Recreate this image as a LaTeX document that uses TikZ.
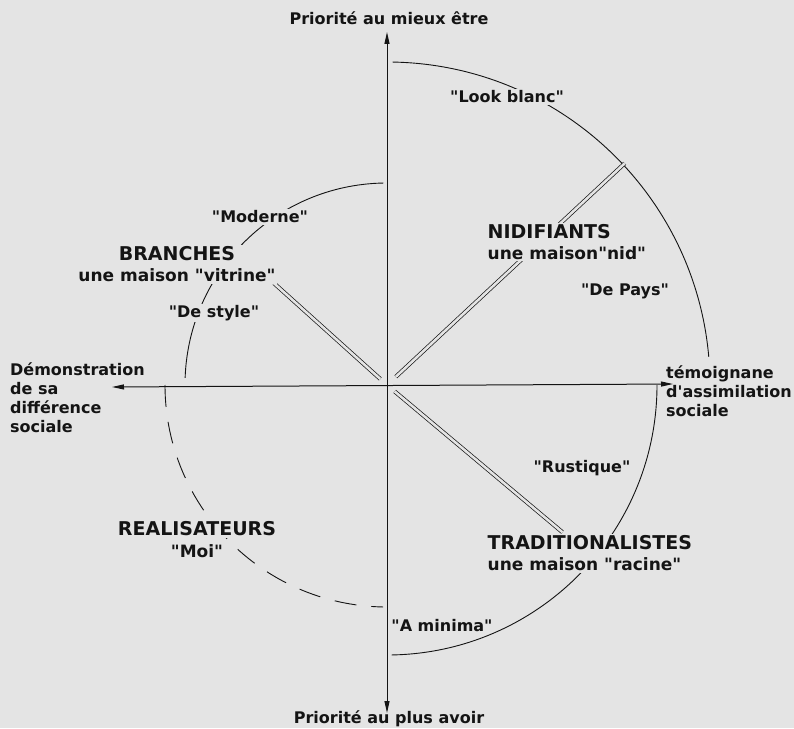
\documentclass[tikz,border=0pt]{standalone}
\usepackage{fontspec}
\setmainfont{DejaVu Sans}[Ligatures=TeXOff]
\usetikzlibrary{arrows.meta}
\definecolor{fond}{RGB}{228,228,228}
\definecolor{encre}{RGB}{20,20,20}

\begin{document}
\begin{tikzpicture}[x=1pt,y=1pt,every node/.style={inner sep=1.5pt,text=encre,font=\bfseries\fontsize{16}{19}\selectfont},
	masque/.style={fill=fond},
	groupe/.style={masque,font=\bfseries\fontsize{17}{21}\selectfont},
	titre/.style={font=\bfseries\fontsize{19}{21}\selectfont},
	arc plein/.style={draw=encre,line width=0.9pt},
	arc tirets/.style={draw=encre,line width=0.9pt,dash pattern=on 22pt off 15pt},
	dbl/.style={draw=encre,line width=0.7pt,double=fond,double distance=2.6pt},
	axe/.style={draw=encre,line width=1pt,arrows={Triangle[length=12pt,width=5pt]-Triangle[length=12pt,width=5pt]}}]
	
	\path[fill=fond,use as bounding box] (-387,-343) rectangle (407,385);
	
	\coordinate (O) at (0,0);
	\coordinate (N) at (0,353);
	\coordinate (S) at (0,-328);
	\coordinate (W) at (-275,-2);
	\coordinate (E) at (286,1);
	
	% arcs des quatre profils
	\path[arc plein] (89:323) arc[start angle=89,end angle=5,radius=323];
	\path[arc plein] (91:202) arc[start angle=91,end angle=178,radius=202];
	\path[arc tirets] (180:222) arc[start angle=180,end angle=269,radius=222];
	\path[arc plein] (0:270) arc[start angle=0,end angle=-89,radius=270];
	
	% traits doubles
	\coordinate (brA) at (138:9);
	\coordinate (brB) at (138:152);
	\coordinate (niA) at (43:12);
	\coordinate (niB) at (43:325);
	\coordinate (trA) at (-40:10);
	\coordinate (trB) at (-40:229);
	\path[dbl] (brA) -- (brB);
	\path[dbl] (niA) -- (niB);
	\path[dbl] (trA) -- (trB);
	
	% textes
	\node (haut) at (2,367) {Priorité au mieux être};
	\node (bas) at (2,-334) {Priorité au plus avoir};
	\node[anchor=west,align=left,inner sep=0pt] (gauche) at (-377,-13) {Démonstration\\de sa\\différence\\sociale};
	\node[anchor=west,align=left,inner sep=0pt] (droite) at (279,-6) {témoignane\\d'assimilation\\sociale};
	
	\node[masque] (look) at (120,288) {"Look blanc"};
	\node[masque] (moderne) at (-127,168) {"Moderne"};
	\node[groupe,align=center] (branches) at (-210,120.5) {{\fontsize{19}{21}\selectfont BRANCHES}\\une maison "vitrine"};
	\node[masque] (style) at (-173,72) {"De style"};
	\node[groupe,align=left,anchor=west] (nid) at (99,143) {{\fontsize{19}{21}\selectfont NIDIFIANTS}\\une maison"nid"};
	\node (pays) at (238,94) {"De Pays"};
	\node (rustique) at (195,-83) {"Rustique"};
	\node[groupe,align=left,anchor=west] (trad) at (99,-168.5) {{\fontsize{19}{21}\selectfont TRADITIONALISTES}\\une maison "racine"};
	\node[masque,inner sep=0.5pt] (minima) at (55,-241) {"A minima"};
	\node[masque,titre] (real) at (-190,-144) {REALISATEURS};
	\node[masque,font=\bfseries\fontsize{17}{21}\selectfont] (moi) at (-190,-166) {"Moi"};
	
	% axes
	\path[axe] (S) -- (N);
	\path[axe] (W) -- (E);
	
\end{tikzpicture}
\end{document}
